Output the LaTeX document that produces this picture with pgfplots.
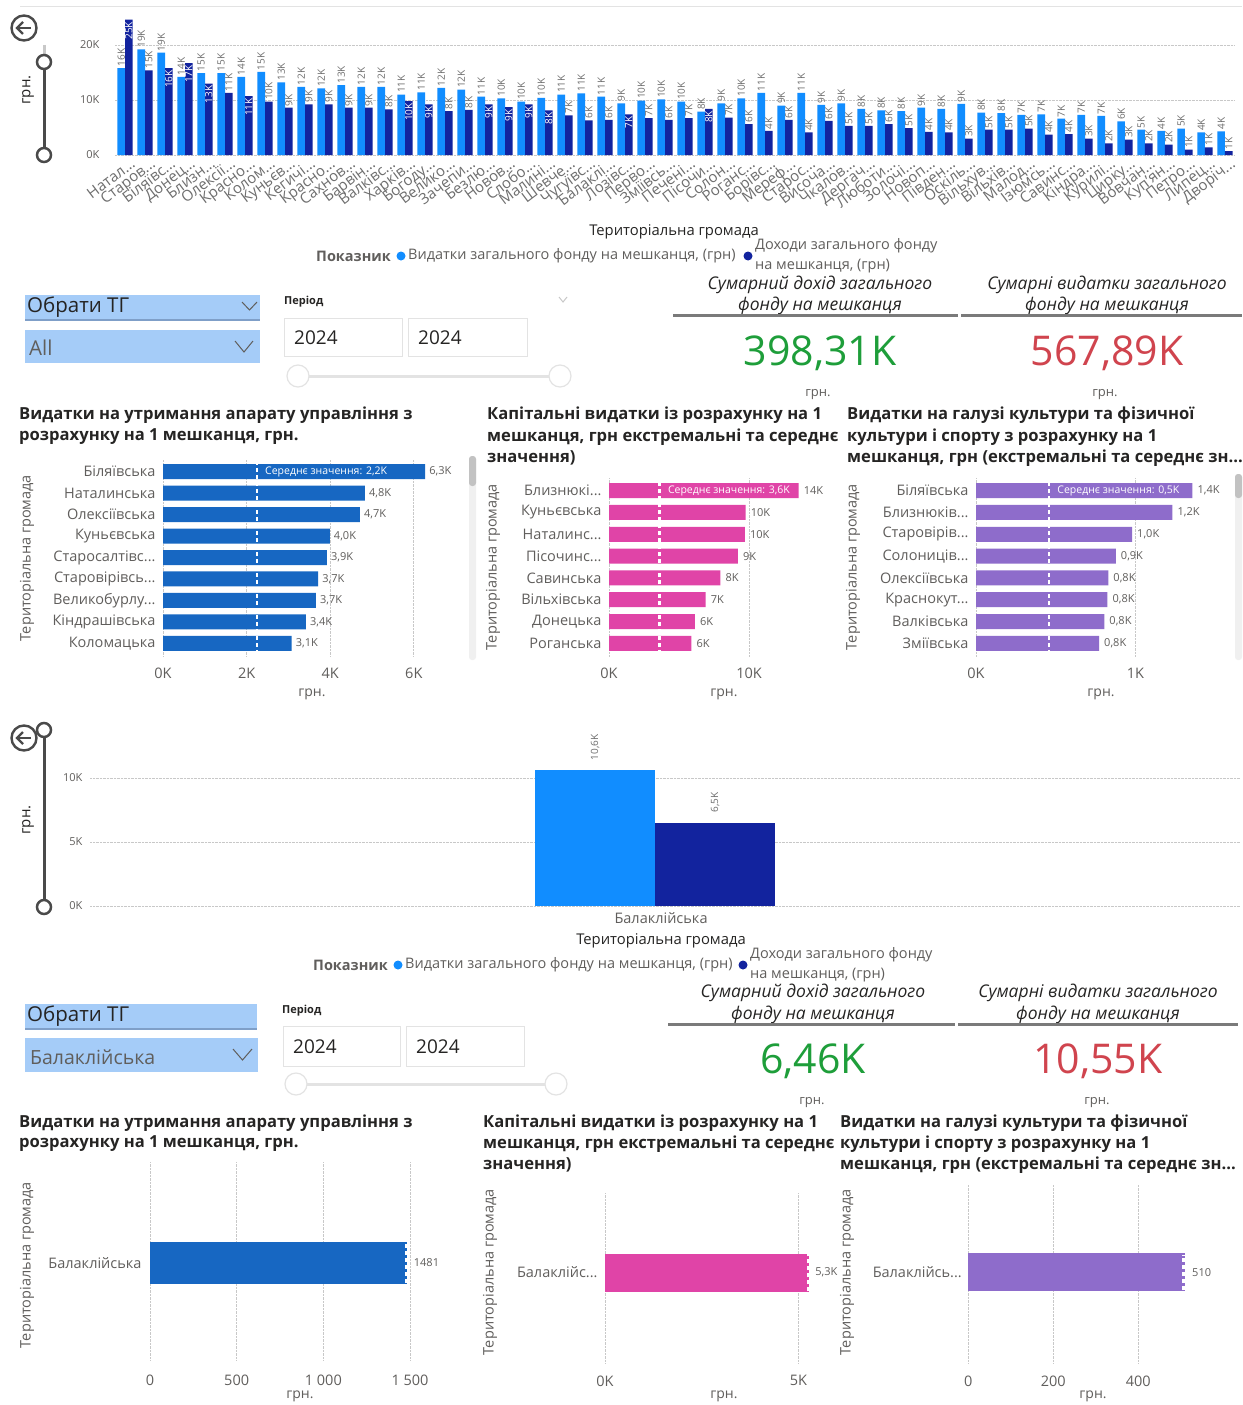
\documentclass[border=0pt]{standalone}
\usepackage{pgfplots}
\pgfplotsset{compat=1.18}
\usepackage{pgfplotstable}
\usepackage{fontspec}
\setmainfont{Open Sans}
\newcommand{\fs}[1]{\fontsize{#1}{#1}\selectfont}
\pgfkeys{/pgf/number format/assume math mode=true}

\definecolor{pbLight}{HTML}{118DFF}
\definecolor{pbDark}{HTML}{12239E}
\definecolor{pbBlue}{HTML}{1767C2}
\definecolor{pbPink}{HTML}{E044A7}
\definecolor{pbPurple}{HTML}{8E6CCB}
\definecolor{lblGray}{HTML}{605E5C}
\definecolor{axGray}{HTML}{6E6E6E}
\definecolor{titleC}{HTML}{252423}
\definecolor{gridC}{HTML}{C8C8C8}
\definecolor{slicerC}{HTML}{A5CCF8}
\definecolor{slicerLine}{HTML}{7F9FC8}
\definecolor{boxLine}{HTML}{E3E3E3}
\definecolor{kpiGreen}{HTML}{1E9E3A}
\definecolor{kpiRed}{HTML}{D0444E}
\definecolor{kpiLine}{HTML}{7A7A7A}
\definecolor{iconC}{HTML}{4A4A4A}
\definecolor{sliderLight}{HTML}{C8C8C8}
\definecolor{scrollC}{HTML}{F0F0F0}
\definecolor{thumbC}{HTML}{C2C2C2}

\pgfplotsset{
  pbi/.style={scale only axis, axis line style={draw=none}, tick style={draw=none},
    major tick length=0pt, grid style={densely dotted, gridC, line width=0.8pt},
    tick label style={text=lblGray}, clip=false},
}

\pgfplotstableread{
x light dark in
0 15.8 24.6 1
1 19.2 15.4 0
2 18.6 15.8 1
3 14.2 16.7 1
4 14.9 13.0 1
5 14.9 11.3 0
6 14.2 10.7 1
7 15.1 9.7 0
8 13.2 8.6 0
9 12.4 9.2 0
10 12.1 9.2 0
11 12.7 8.6 0
12 12.4 8.6 0
13 12.4 8.3 0
14 11.0 9.8 1
15 11.4 9.2 1
16 12.2 8.0 0
17 11.9 8.2 0
18 10.6 9.2 1
19 10.3 8.7 1
20 9.7 9.2 1
21 10.4 8.1 1
22 11.0 7.2 0
23 11.2 6.3 0
24 10.6 6.4 0
25 9.4 7.4 1
26 9.9 6.7 0
27 10.1 6.4 0
28 9.7 6.7 0
29 7.9 8.4 1
30 9.4 6.8 0
31 10.3 5.6 0
32 11.3 4.4 0
33 9.0 6.4 0
34 11.3 4.1 0
35 9.1 6.2 0
36 9.4 5.3 0
37 8.4 5.3 0
38 8.1 5.6 0
39 8.0 4.9 0
40 8.6 4.2 0
41 8.4 4.1 0
42 9.3 3.0 0
43 7.7 4.6 0
44 7.6 4.6 0
45 7.3 4.8 0
46 7.4 3.7 0
47 6.6 3.8 0
48 7.3 3.0 0
49 7.1 2.1 0
50 6.1 2.8 0
51 4.6 2.1 0
52 4.4 1.9 0
53 4.8 1.0 0
54 4.1 1.4 0
55 4.3 0.7 0
}\topdata

\begin{document}
\begin{tikzpicture}
\path[use as bounding box, fill=white] (0,0) rectangle (1242pt,-1405pt);
\begin{scope}[x=1pt,y=-1pt]
% ---------- top chart decorations
\draw[boxLine, line width=1pt] (20,7) -- (1242,7);
\draw[iconC, line width=2.4pt] (24,28) circle (12.5);
\draw[iconC, line width=2.4pt] (31,28) -- (17,28);
\draw[iconC, line width=2.4pt] (23,22) -- (17,28) -- (23,34);
\draw[sliderLight, line width=3pt] (44,45) -- (44,62);
\draw[iconC, line width=3pt] (44,62) -- (44,155);
\draw[iconC, line width=2.5pt, fill=white] (44,62) circle (7);
\draw[iconC, line width=2.5pt, fill=white] (44,155) circle (7);
\node[rotate=90, font=\fs{15}, text=titleC] at (28,90) {грн.};
\node[font=\fs{14.8}, text=titleC] at (674,232) {Територіальна громада};
\node[anchor=west, font=\bfseries\fs{14.5}, text=lblGray, inner sep=1pt] at (315,256) {Показник};
\fill[pbLight] (401,256) circle (4.5);
\node[anchor=west, font=\fs{14.5}, text=lblGray, inner sep=1pt] at (407,256) {Видатки загального фонду на мешканця, (грн)};
\fill[pbDark] (748,256) circle (4.5);
\node[anchor=west, font=\fs{14.5}, text=lblGray, inner sep=1pt] at (754,246) {Доходи загального фонду};
\node[anchor=west, font=\fs{14.5}, text=lblGray, inner sep=1pt] at (754,266) {на мешканця, (грн)};
% ---------- top slicers
\fill[slicerC] (25,295) rectangle (260,320);
\draw[slicerLine, line width=1.5pt] (25,320) -- (260,320);
\node[anchor=west, font=\fs{20.5}, text=titleC, inner sep=2pt] at (25,307) {Обрати ТГ};
\draw[lblGray, line width=1pt] (242,302) -- (249.5,310) -- (257,302);
\fill[slicerC] (25,330) rectangle (260,363);
\node[anchor=west, font=\fs{20.5}, text=lblGray, inner sep=2pt] at (27,348) {All};
\draw[lblGray, line width=1pt] (235,341) -- (244,352) -- (253,341);
\node[anchor=west, font=\bfseries\fs{11}, text=titleC, inner sep=1pt] at (283,302) {Період};
\draw[gridC, line width=1pt] (559,297) -- (563,302) -- (567,297);
\draw[boxLine, line width=1pt] (284,318) rectangle (402,356);
\draw[boxLine, line width=1pt] (408,318) rectangle (527,356);
\node[anchor=west, font=\fs{19}, text=titleC, inner sep=1pt] at (293,338) {2024};
\node[anchor=west, font=\fs{19}, text=titleC, inner sep=1pt] at (417,338) {2024};
\draw[boxLine, line width=3pt] (298,376) -- (560,376);
\draw[boxLine, line width=1.2pt, fill=white] (298,376) circle (11);
\draw[boxLine, line width=1.2pt, fill=white] (560,376) circle (11);
% ---------- top KPI
\node[font=\itshape\fs{17.5}, text=titleC] at (820,285) {Сумарний дохід загального};
\node[font=\itshape\fs{17.5}, text=titleC] at (820,306) {фонду на мешканця};
\node[font=\itshape\fs{17.5}, text=titleC] at (1107,285) {Сумарні видатки загального};
\node[font=\itshape\fs{17.5}, text=titleC] at (1107,306) {фонду на мешканця};
\draw[kpiLine, line width=3pt] (673,315) -- (958,315);
\draw[kpiLine, line width=3pt] (961,315) -- (1242,315);
\node[font=\fs{41}, text=kpiGreen] at (820,353) {398,31K};
\node[font=\fs{41}, text=kpiRed] at (1107,353) {567,89K};
\node[font=\fs{13}, text=lblGray] at (818,395) {грн.};
\node[font=\fs{13}, text=lblGray] at (1105,395) {грн.};
% ---------- middle chart titles
\node[anchor=west, font=\bfseries\fs{16.6}, text=titleC, inner sep=1pt] at (18,415) {Видатки на утримання апарату управління з};
\node[anchor=west, font=\bfseries\fs{16.6}, text=titleC, inner sep=1pt] at (18,437) {розрахунку на 1 мешканця, грн.};
\node[anchor=west, font=\bfseries\fs{16.6}, text=titleC, inner sep=1pt] at (486,415) {Капітальні видатки із розрахунку на 1};
\node[anchor=west, font=\bfseries\fs{16.6}, text=titleC, inner sep=1pt] at (486,437) {мешканця, грн екстремальні та середнє};
\node[anchor=west, font=\bfseries\fs{16.6}, text=titleC, inner sep=1pt] at (486,458) {значення)};
\node[anchor=west, font=\bfseries\fs{16.6}, text=titleC, inner sep=1pt] at (846,415) {Видатки на галузі культури та фізичної};
\node[anchor=west, font=\bfseries\fs{16.6}, text=titleC, inner sep=1pt] at (846,437) {культури і спорту з розрахунку на 1};
\node[anchor=west, font=\bfseries\fs{16.6}, text=titleC, inner sep=1pt] at (846,458) {мешканця, грн (екстремальні та середнє зн...};
\node[rotate=90, font=\fs{14.5}, text=lblGray] at (27,558) {Територіальна громада};
\node[rotate=90, font=\fs{14.5}, text=lblGray] at (493,567) {Територіальна громада};
\node[rotate=90, font=\fs{14.5}, text=lblGray] at (853,567) {Територіальна громада};
\node[font=\fs{14}, text=lblGray] at (312,694) {грн.};
\node[font=\fs{14}, text=lblGray] at (724,694) {грн.};
\node[font=\fs{14}, text=lblGray] at (1101,694) {грн.};
\fill[scrollC, rounded corners=3pt] (469,456) rectangle (476,660);
\fill[thumbC, rounded corners=3pt] (469,456) rectangle (476,486);
\fill[scrollC, rounded corners=3pt] (1235,474) rectangle (1242,660);
\fill[thumbC, rounded corners=3pt] (1235,474) rectangle (1242,498);
% ---------- second column chart decorations
\draw[iconC, line width=3pt] (44,730) -- (44,907);
\draw[iconC, line width=2.5pt, fill=white] (44,730) circle (7);
\draw[iconC, line width=2.5pt, fill=white] (44,907) circle (7);
\draw[iconC, line width=2.4pt, fill=white] (24,738) circle (12.5);
\draw[iconC, line width=2.4pt] (31,738) -- (17,738);
\draw[iconC, line width=2.4pt] (23,732) -- (17,738) -- (23,744);
\node[rotate=90, font=\fs{15}, text=titleC] at (28,820) {грн.};
\node[font=\fs{14.8}, text=titleC] at (661,941) {Територіальна громада};
\node[anchor=west, font=\bfseries\fs{14.5}, text=lblGray, inner sep=1pt] at (312,965) {Показник};
\fill[pbLight] (398,965) circle (4.5);
\node[anchor=west, font=\fs{14.5}, text=lblGray, inner sep=1pt] at (404,965) {Видатки загального фонду на мешканця, (грн)};
\fill[pbDark] (743,965) circle (4.5);
\node[anchor=west, font=\fs{14.5}, text=lblGray, inner sep=1pt] at (749,955) {Доходи загального фонду};
\node[anchor=west, font=\fs{14.5}, text=lblGray, inner sep=1pt] at (749,975) {на мешканця, (грн)};
% ---------- bottom slicers
\fill[slicerC] (25,1004) rectangle (257,1029);
\draw[slicerLine, line width=1.5pt] (25,1029) -- (257,1029);
\node[anchor=west, font=\fs{20.5}, text=titleC, inner sep=2pt] at (25,1016) {Обрати ТГ};
\fill[slicerC] (25,1038) rectangle (258,1072);
\node[anchor=west, font=\fs{19.5}, text=lblGray, inner sep=2pt] at (28,1057) {Балаклійська};
\draw[lblGray, line width=1pt] (233,1049) -- (242.5,1060) -- (252,1049);
\node[anchor=west, font=\bfseries\fs{11}, text=titleC, inner sep=1pt] at (281,1011) {Період};
\draw[boxLine, line width=1pt] (283,1026) rectangle (400,1066);
\draw[boxLine, line width=1pt] (406,1026) rectangle (524,1066);
\node[anchor=west, font=\fs{19}, text=titleC, inner sep=1pt] at (292,1047) {2024};
\node[anchor=west, font=\fs{19}, text=titleC, inner sep=1pt] at (415,1047) {2024};
\draw[boxLine, line width=3pt] (296,1084) -- (556,1084);
\draw[boxLine, line width=1.2pt, fill=white] (296,1084) circle (11);
\draw[boxLine, line width=1.2pt, fill=white] (556,1084) circle (11);
% ---------- bottom KPI
\node[font=\itshape\fs{17.5}, text=titleC] at (813,993) {Сумарний дохід загального};
\node[font=\itshape\fs{17.5}, text=titleC] at (813,1015) {фонду на мешканця};
\node[font=\itshape\fs{17.5}, text=titleC] at (1098,993) {Сумарні видатки загального};
\node[font=\itshape\fs{17.5}, text=titleC] at (1098,1015) {фонду на мешканця};
\draw[kpiLine, line width=3pt] (668,1024) -- (955,1024);
\draw[kpiLine, line width=3pt] (958,1024) -- (1238,1024);
\node[font=\fs{41}, text=kpiGreen] at (813,1061) {6,46K};
\node[font=\fs{41}, text=kpiRed] at (1098,1061) {10,55K};
\node[font=\fs{13}, text=lblGray] at (812,1103) {грн.};
\node[font=\fs{13}, text=lblGray] at (1097,1103) {грн.};
% ---------- bottom chart titles
\node[anchor=west, font=\bfseries\fs{16.6}, text=titleC, inner sep=1pt] at (18,1123) {Видатки на утримання апарату управління з};
\node[anchor=west, font=\bfseries\fs{16.6}, text=titleC, inner sep=1pt] at (18,1144) {розрахунку на 1 мешканця, грн.};
\node[anchor=west, font=\bfseries\fs{16.6}, text=titleC, inner sep=1pt] at (482,1123) {Капітальні видатки із розрахунку на 1};
\node[anchor=west, font=\bfseries\fs{16.6}, text=titleC, inner sep=1pt] at (482,1144) {мешканця, грн екстремальні та середнє};
\node[anchor=west, font=\bfseries\fs{16.6}, text=titleC, inner sep=1pt] at (482,1165) {значення)};
\node[anchor=west, font=\bfseries\fs{16.6}, text=titleC, inner sep=1pt] at (839,1123) {Видатки на галузі культури та фізичної};
\node[anchor=west, font=\bfseries\fs{16.6}, text=titleC, inner sep=1pt] at (839,1144) {культури і спорту з розрахунку на 1};
\node[anchor=west, font=\bfseries\fs{16.6}, text=titleC, inner sep=1pt] at (839,1165) {мешканця, грн (екстремальні та середнє зн...};
\node[rotate=90, font=\fs{14.5}, text=lblGray] at (27,1265) {Територіальна громада};
\node[rotate=90, font=\fs{14.5}, text=lblGray] at (490,1272) {Територіальна громада};
\node[rotate=90, font=\fs{14.5}, text=lblGray] at (847,1272) {Територіальна громада};
\node[font=\fs{14}, text=lblGray, inner sep=1pt] at (300,1396) {грн.};
\node[font=\fs{14}, text=lblGray, inner sep=1pt] at (724,1396) {грн.};
\node[font=\fs{14}, text=lblGray, inner sep=1pt] at (1093,1396) {грн.};
\end{scope}

% ================= TOP COLUMN CHART
\begin{axis}[pbi, at={(115pt,-155pt)}, anchor=south west, width=1120pt, height=137.5pt,
  xmin=-0.5, xmax=55.5, ymin=0, ymax=25, ybar=0pt, bar width=7.6pt,
  ytick={0,10,20}, yticklabels={0K,10K,20K}, ymajorgrids,
  yticklabel style={font=\fs{11}, xshift=-12pt},
  xtick={0,...,55},
  xticklabels={Натал{...},Старов{...},Біляївс{...},Донец{...},Близн{...},Олексії{...},Красно{...},Колом{...},Куньєв{...},Кегичі{...},Красно{...},Сахнов{...},Барвін{...},Валківс{...},Харків{...},Богоду{...},Велико{...},Зачепи{...},Безлю{...},Новов{...},Слобо{...},Малині{...},Шевче{...},Чугуївс{...},Балаклі{...},Лозівс{...},Перво{...},Зміївсь{...},Печені{...},Пісочи{...},Солон{...},Роганс{...},Борівс{...},Мереф{...},Старос{...},Височа{...},Чкалов{...},Дергач{...},Люботи{...},Золочі{...},Новоп{...},Півден{...},Оскіль{...},Вільхув{...},Вільхів{...},Малод{...},Ізюмсь{...},Савинс{...},Кіндра{...},Курилі{...},Цирку{...},Вовчан{...},Куп’ян{...},Петро{...},Липец{...},Дворіч{...}},
  xticklabel style={font=\fs{15}, text=axGray, rotate=37, anchor=north east, inner sep=0.5pt, yshift=-4pt, xshift=3pt},
]
\addplot[fill=pbLight, draw=none, bar shift=-3.8pt,
  nodes near coords={\pgfmathprintnumber[fixed,precision=0]{\pgfplotspointmeta}K},
  nodes near coords style={rotate=90, anchor=west, font=\fs{10}, text=axGray, inner sep=1.5pt}]
  table[x=x,y=light]{\topdata};
\addplot[fill=pbDark, draw=none, bar shift=3.8pt] table[x=x,y=dark]{\topdata};
\addplot[draw=none, fill=none, bar shift=3.8pt, restrict expr to domain={\thisrow{in}}{0:0},
  nodes near coords={\pgfmathprintnumber[fixed,precision=0]{\pgfplotspointmeta}K},
  nodes near coords style={rotate=90, anchor=west, font=\fs{10}, text=axGray, inner sep=1.5pt}]
  table[x=x,y=dark]{\topdata};
\addplot[draw=none, fill=none, bar shift=3.8pt, restrict expr to domain={\thisrow{in}}{1:1},
  nodes near coords={\pgfmathprintnumber[fixed,precision=0]{\pgfplotspointmeta}K},
  nodes near coords style={rotate=90, anchor=east, font=\fs{10}, text=white, inner sep=2pt}]
  table[x=x,y=dark]{\topdata};
\end{axis}

% ================= CHART A
\begin{axis}[pbi, at={(163pt,-656.2pt)}, anchor=south west, width=292.6pt, height=197.4pt,
  xmin=0, xmax=7, ymin=-0.6, ymax=8.6, bar width=15pt,
  xtick={0,2,4,6}, xticklabels={0K,2K,4K,6K}, xmajorgrids,
  ytick={0,...,8}, yticklabels={Коломацька,Кіндрашівська,Великобурлу{...},Старовірівсь{...},Старосалтівс{...},Куньєвська,Олексіївська,Наталинська,Біляївська},
  yticklabel style={font=\fs{14.5}, xshift=-4pt}, xticklabel style={font=\fs{14.5}, yshift=-8pt}]
\addplot[xbar, bar shift=0pt, fill=pbBlue, draw=none,
  nodes near coords={\pgfmathprintnumber[fixed,fixed zerofill,precision=1,use comma]{\pgfplotspointmeta}K},
  nodes near coords style={font=\fs{11}, text=lblGray, inner sep=4pt}]
  coordinates {(6.27,8) (4.83,7) (4.71,6) (3.99,5) (3.92,4) (3.71,3) (3.66,2) (3.42,1) (3.08,0)};
\addplot[white, line width=2.5pt, dash pattern=on 4pt off 3pt] coordinates {(2.25,-0.5) (2.25,8.5)};
\node[anchor=west, text=white, font=\fs{10.5}, inner sep=0pt] at (axis cs:2.44,8) {Середнє значення: 2,2K};
\end{axis}

% ================= CHART B
\begin{axis}[pbi, at={(609pt,-656.4pt)}, anchor=south west, width=224pt, height=178.8pt,
  xmin=0, xmax=16, ymin=-0.6, ymax=7.6, bar width=15pt,
  xtick={0,10}, xticklabels={0K,10K}, xmajorgrids,
  ytick={0,...,7}, yticklabels={Роганська,Донецька,Вільхівська,Савинська,Пісочинс{...},Наталинс{...},Куньєвська,Близнюкі{...}},
  yticklabel style={font=\fs{14.5}, xshift=-4pt}, xticklabel style={font=\fs{14.5}, yshift=-8pt}]
\addplot[xbar, bar shift=0pt, fill=pbPink, draw=none,
  nodes near coords={\pgfmathprintnumber[fixed,precision=0]{\pgfplotspointmeta}K},
  nodes near coords style={font=\fs{11}, text=lblGray, inner sep=5pt}]
  coordinates {(13.55,7) (9.76,6) (9.7,5) (9.2,4) (7.95,3) (6.9,2) (6.14,1) (5.88,0)};
\addplot[white, line width=2.5pt, dash pattern=on 4pt off 3pt] coordinates {(3.6,-0.5) (3.6,7.5)};
\node[anchor=west, text=white, font=\fs{10.5}, inner sep=0pt] at (axis cs:4.2,7) {Середнє значення: 3,6K};
\end{axis}

% ================= CHART C
\begin{axis}[pbi, at={(976pt,-656.4pt)}, anchor=south west, width=247pt, height=178.8pt,
  xmin=0, xmax=1.55, ymin=-0.6, ymax=7.6, bar width=15pt,
  xtick={0,1}, xticklabels={0K,1K}, xmajorgrids,
  ytick={0,...,7}, yticklabels={Зміївська,Валківська,Краснокут{...},Олексіївська,Солониців{...},Старовірів{...},Близнюків{...},Біляївська},
  yticklabel style={font=\fs{14.5}, xshift=-4pt}, xticklabel style={font=\fs{14.5}, yshift=-8pt}]
\addplot[xbar, bar shift=0pt, fill=pbPurple, draw=none,
  nodes near coords={\pgfmathprintnumber[fixed,fixed zerofill,precision=1,use comma]{\pgfplotspointmeta}K},
  nodes near coords style={font=\fs{11}, text=lblGray, inner sep=5pt}]
  coordinates {(1.358,7) (1.232,6) (0.979,5) (0.877,4) (0.83,3) (0.824,2) (0.805,1) (0.772,0)};
\addplot[white, line width=2.5pt, dash pattern=on 4pt off 3pt] coordinates {(0.458,-0.5) (0.458,7.5)};
\node[anchor=west, text=white, font=\fs{10.5}, inner sep=0pt] at (axis cs:0.51,7) {Середнє значення: 0,5K};
\end{axis}

% ================= SECOND COLUMN CHART
\begin{axis}[pbi, at={(90pt,-906pt)}, anchor=south west, width=1150pt, height=176pt,
  xmin=-565, xmax=585, ymin=0, ymax=13.75, ybar=0pt, bar width=120pt,
  ytick={0,5,10}, yticklabels={0K,5K,10K}, ymajorgrids,
  yticklabel style={font=\fs{11}, xshift=-4pt},
  xtick={0}, xticklabels={Балаклійська}, xticklabel style={font=\fs{14.5}, yshift=-3pt, xshift=6pt}]
\addplot[bar shift=-60pt, fill=pbLight, draw=none,
  nodes near coords={\pgfmathprintnumber[fixed,fixed zerofill,precision=1,use comma]{\pgfplotspointmeta}K},
  nodes near coords style={rotate=90, anchor=west, font=\fs{10}, text=axGray, inner sep=10pt}]
  coordinates {(0,10.6)};
\addplot[bar shift=60pt, fill=pbDark, draw=none,
  nodes near coords={\pgfmathprintnumber[fixed,fixed zerofill,precision=1,use comma]{\pgfplotspointmeta}K},
  nodes near coords style={rotate=90, anchor=west, font=\fs{10}, text=axGray, inner sep=10pt}]
  coordinates {(0,6.5)};
\end{axis}

% ================= CHART D
\begin{axis}[pbi, at={(150pt,-1360pt)}, anchor=south west, width=270.4pt, height=198pt,
  xmin=0, xmax=1560, ymin=-0.49, ymax=0.51, bar width=42pt,
  xtick={0,500,1000,1500}, xticklabels={0,500,1 000,1 500}, xmajorgrids,
  ytick={0}, yticklabels={Балаклійська},
  yticklabel style={font=\fs{14.5}, xshift=-5pt}, xticklabel style={font=\fs{14.5}, yshift=-11pt}]
\addplot[xbar, bar shift=0pt, fill=pbBlue, draw=none,
  nodes near coords={\pgfmathprintnumber[fixed,precision=0,1000 sep={}]{\pgfplotspointmeta}},
  nodes near coords style={font=\fs{11}, text=lblGray, inner sep=7pt}]
  coordinates {(1481,0)};
\addplot[white, line width=2.5pt, dash pattern=on 4pt off 3pt] coordinates {(1476,-0.1) (1476,0.1)};
\end{axis}

% ================= CHART E
\begin{axis}[pbi, at={(605pt,-1363pt)}, anchor=south west, width=214.6pt, height=170pt,
  xmin=0, xmax=5.55, ymin=-0.532, ymax=0.468, bar width=38pt,
  xtick={0,5}, xticklabels={0K,5K}, xmajorgrids,
  ytick={0}, yticklabels={Балаклійс{...}},
  yticklabel style={font=\fs{14.5}, xshift=-4pt}, xticklabel style={font=\fs{14.5}, yshift=-9pt}]
\addplot[xbar, bar shift=0pt, fill=pbPink, draw=none,
  nodes near coords={\pgfmathprintnumber[fixed,fixed zerofill,precision=1,use comma]{\pgfplotspointmeta}K},
  nodes near coords style={font=\fs{11}, text=lblGray, inner sep=6pt}]
  coordinates {(5.28,0)};
\addplot[white, line width=2.5pt, dash pattern=on 4pt off 3pt] coordinates {(5.25,-0.11) (5.25,0.11)};
\end{axis}

% ================= CHART F
\begin{axis}[pbi, at={(968.3pt,-1363pt)}, anchor=south west, width=231.6pt, height=178pt,
  xmin=0, xmax=545, ymin=-0.509, ymax=0.491, bar width=38pt,
  xtick={0,200,400}, xticklabels={0,200,400}, xmajorgrids,
  ytick={0}, yticklabels={Балаклійсь{...}},
  yticklabel style={font=\fs{14.5}, xshift=-3pt}, xticklabel style={font=\fs{14.5}, yshift=-9pt}]
\addplot[xbar, bar shift=0pt, fill=pbPurple, draw=none,
  nodes near coords={\pgfmathprintnumber[fixed,precision=0]{\pgfplotspointmeta}},
  nodes near coords style={font=\fs{11}, text=lblGray, inner sep=7pt}]
  coordinates {(510,0)};
\addplot[white, line width=2.5pt, dash pattern=on 4pt off 3pt] coordinates {(506,-0.1) (506,0.1)};
\end{axis}
\end{tikzpicture}
\end{document}
